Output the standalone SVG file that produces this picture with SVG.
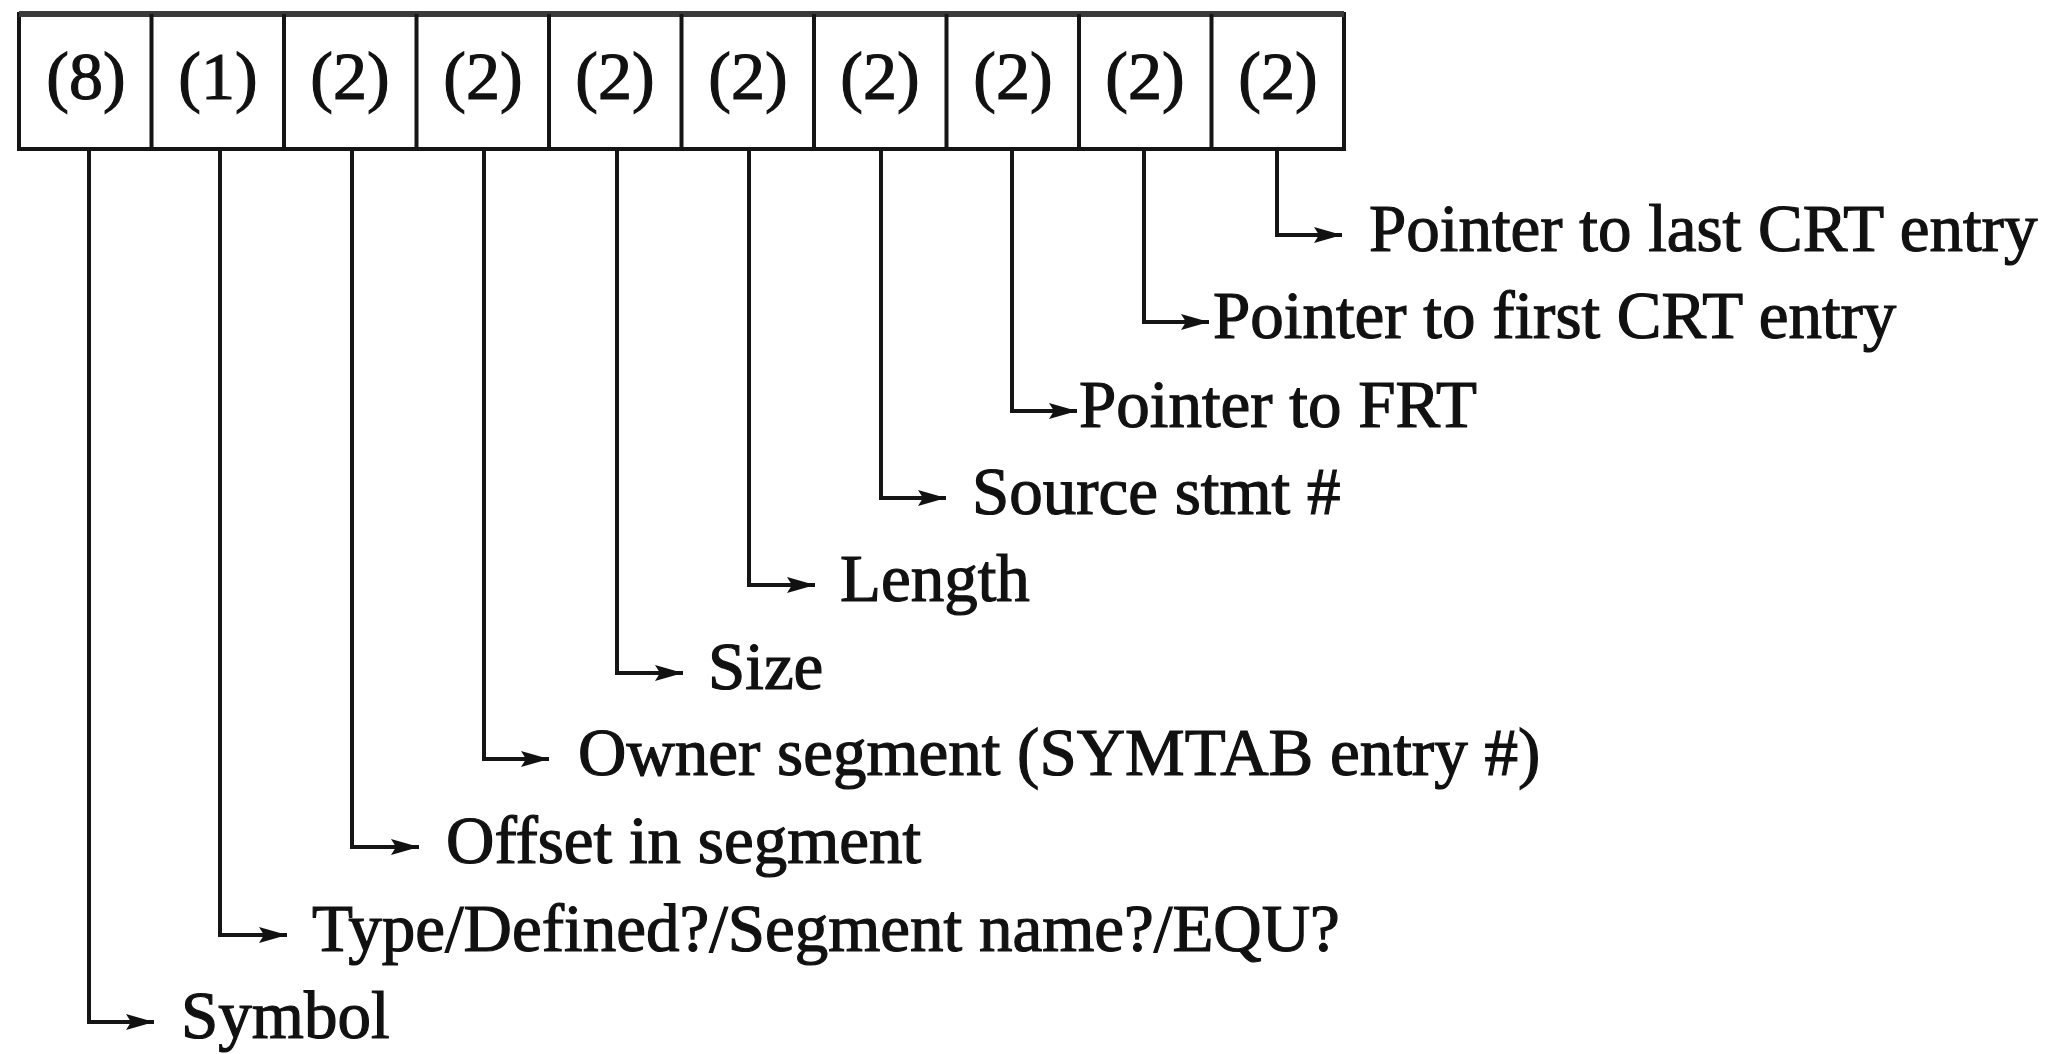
<svg xmlns="http://www.w3.org/2000/svg" width="2046" height="1054" viewBox="0 0 2046 1054">
  <style>
    .cell { fill: #fff; stroke: #151515; stroke-width: 4; }
    .div { stroke: #151515; stroke-width: 4; }
    .num { font-family: "Liberation Serif", "Times New Roman", serif; font-size: 68px; fill: #111; text-anchor: middle; stroke: #111; stroke-width: 1.2; }
    .lbl { font-family: "Liberation Serif", "Times New Roman", serif; font-size: 67px; fill: #111; stroke: #111; stroke-width: 1.2; }
    .lead { fill: none; stroke: #151515; stroke-width: 4; marker-end: url(#tip); }
  </style>
  <defs>
    <marker id="tip" markerUnits="userSpaceOnUse" markerWidth="30" markerHeight="20" refX="28" refY="10" orient="auto">
      <path d="M0,2 L28,10 L0,18 L5,10 z" fill="#111"/>
    </marker>
  </defs>
  <rect width="2046" height="1054" fill="#fff"/>

  <!-- record layout: ten fields, sizes in bytes -->
  <g id="record">
    <rect class="cell" x="19" y="14" width="1325" height="135"/>
    <line x1="19" y1="14" x2="1344" y2="14" stroke="#3a3a3a" stroke-width="6"/>
    <g id="dividers">
      <line class="div" x1="151.5" y1="14" x2="151.5" y2="149"/>
      <line class="div" x1="284" y1="14" x2="284" y2="149"/>
      <line class="div" x1="416.5" y1="14" x2="416.5" y2="149"/>
      <line class="div" x1="549" y1="14" x2="549" y2="149"/>
      <line class="div" x1="681.5" y1="14" x2="681.5" y2="149"/>
      <line class="div" x1="814" y1="14" x2="814" y2="149"/>
      <line class="div" x1="946.5" y1="14" x2="946.5" y2="149"/>
      <line class="div" x1="1079" y1="14" x2="1079" y2="149"/>
      <line class="div" x1="1211.5" y1="14" x2="1211.5" y2="149"/>
    </g>
    <g id="field-symbol"><text class="num" x="86" y="99">(8)</text></g>
    <g id="field-type"><text class="num" x="218" y="99">(1)</text></g>
    <g id="field-offset"><text class="num" x="350" y="99">(2)</text></g>
    <g id="field-owner"><text class="num" x="483" y="99">(2)</text></g>
    <g id="field-size"><text class="num" x="615" y="99">(2)</text></g>
    <g id="field-length"><text class="num" x="748" y="99">(2)</text></g>
    <g id="field-source"><text class="num" x="880" y="99">(2)</text></g>
    <g id="field-frt"><text class="num" x="1013" y="99">(2)</text></g>
    <g id="field-first-crt"><text class="num" x="1145" y="99">(2)</text></g>
    <g id="field-last-crt"><text class="num" x="1278" y="99">(2)</text></g>
  </g>

  <!-- leader lines from each field down to its description -->
  <g id="connectors">
    <path class="lead" d="M89,149 V1022 H154"/>
    <path class="lead" d="M220,149 V935 H287"/>
    <path class="lead" d="M352,149 V847 H419"/>
    <path class="lead" d="M484,149 V759 H549"/>
    <path class="lead" d="M617,149 V673 H683"/>
    <path class="lead" d="M749,149 V585 H815"/>
    <path class="lead" d="M881,149 V498 H946"/>
    <path class="lead" d="M1012,149 V411 H1077"/>
    <path class="lead" d="M1144,149 V322 H1209"/>
    <path class="lead" d="M1277,149 V235 H1342"/>
  </g>

  <!-- field descriptions -->
  <g id="label-symbol"><text class="lbl" x="181" y="1038">Symbol</text></g>
  <g id="label-type"><text class="lbl" x="312" y="951">Type/Defined?/Segment name?/EQU?</text></g>
  <g id="label-offset"><text class="lbl" x="446" y="863">Offset in segment</text></g>
  <g id="label-owner"><text class="lbl" x="578" y="775">Owner segment (SYMTAB entry #)</text></g>
  <g id="label-size"><text class="lbl" x="708" y="689">Size</text></g>
  <g id="label-length"><text class="lbl" x="840" y="601">Length</text></g>
  <g id="label-source"><text class="lbl" x="972" y="514">Source stmt #</text></g>
  <g id="label-frt"><text class="lbl" x="1079" y="427">Pointer to FRT</text></g>
  <g id="label-first-crt"><text class="lbl" x="1213" y="338">Pointer to first CRT entry</text></g>
  <g id="label-last-crt"><text class="lbl" x="1369" y="251">Pointer to last CRT entry</text></g>
</svg>
